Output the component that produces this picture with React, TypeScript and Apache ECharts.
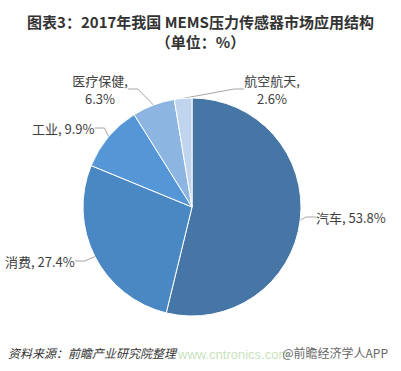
import React, { useEffect, useRef } from "react";
import * as echarts from "echarts";

const categories = ["汽车", "消费", "工业", "医疗保健", "航空航天"];
const values = [53.8, 27.4, 9.9, 6.3, 2.6];
const colors = ["#4676A6", "#4A88C4", "#5597D6", "#8DB5E2", "#C0D4EE"];
const titleText = "图表3：2017年我国 MEMS压力传感器市场应用结构\n（单位：%）";
const sourceText = "资料来源：前瞻产业研究院整理";
const brandText = "@前瞻经济学人APP";
const watermarkText = "www.cntronics.com";

// label placement (layout only)
const labelPos = [
  { x: 316, y: 217, align: "left" },
  { x: 5, y: 261, align: "left" },
  { x: 32, y: 128, align: "left" },
  { x: 100, y: 89, align: "center" },
  { x: 272, y: 89, align: "center" },
];

export default function App() {
  const ref = useRef<HTMLDivElement>(null);
  useEffect(() => {
    const chart = echarts.init(ref.current!, null, { renderer: "svg" });
    chart.setOption({
      animation: false,
      backgroundColor: "#ffffff",
      title: {
        text: titleText,
        left: "center",
        top: 6,
        textStyle: {
          fontFamily: "Noto Sans CJK SC",
          fontSize: 15,
          fontWeight: "bold",
          color: "#333333",
          lineHeight: 20,
        },
      },
      graphic: [
        {
          type: "text",
          left: 178,
          top: 348,
          z: 0,
          style: {
            text: watermarkText,
            fontFamily: "Liberation Sans",
            fontSize: 13,
            fill: "rgba(140,195,120,0.5)",
          },
        },
        {
          type: "text",
          left: 8,
          top: 346,
          style: {
            text: sourceText,
            fontFamily: "Noto Sans CJK SC",
            fontSize: 12,
            fontStyle: "italic",
            fill: "#333333",
          },
        },
        {
          type: "text",
          right: 13,
          top: 346,
          style: {
            text: brandText,
            fontFamily: "Noto Sans CJK SC",
            fontSize: 12,
            fill: "#666666",
          },
        },
      ],
      series: [
        {
          type: "pie",
          center: [192, 207],
          radius: [0, 109],
          startAngle: 90,
          clockwise: true,
          avoidLabelOverlap: false,
          itemStyle: { borderColor: "#ffffff", borderWidth: 1 },
          label: {
            show: true,
            fontFamily: "Noto Sans CJK SC",
            fontSize: 13,
            color: "#404040",
            lineHeight: 18,
          },
          labelLine: {
            show: true,
            length: 10,
            length2: 10,
            lineStyle: { color: "#a6a6a6", width: 1 },
          },
          labelLayout: (params: any) => {
            const p = labelPos[params.dataIndex];
            return { x: p.x, y: p.y, align: p.align, verticalAlign: "middle" };
          },
          data: categories.map((name, i) => ({
            name,
            value: values[i],
            itemStyle: { color: colors[i] },
            label: {
              formatter: i >= 3 ? "{b},\n{c}%" : "{b}, {c}%",
              align: i >= 3 ? "center" : "left",
            },
          })),
        },
      ],
    });
    return () => chart.dispose();
  }, []);
  return <div ref={ref} style={{ width: 401, height: 371, position: "absolute", left: 0, top: 0 }} />;
}
